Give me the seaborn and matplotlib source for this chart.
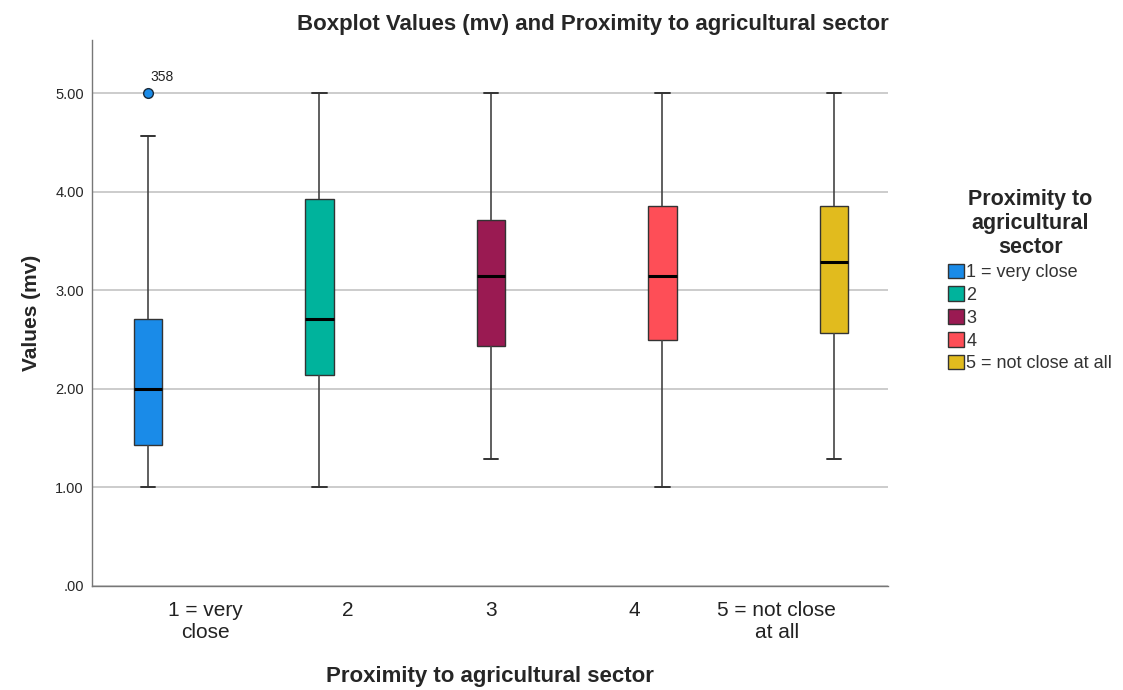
import numpy as np
import pandas as pd
import matplotlib
matplotlib.use("Agg")
import matplotlib.pyplot as plt
import seaborn as sns
from matplotlib.patches import Patch

# groups and box statistics
groups = ["1 = very close", "2", "3", "4", "5 = not close at all"]
tickLabels = ["1 = very\nclose", "2", "3", "4", "5 = not close\nat all"]
mins = [1.00, 1.00, 1.29, 1.00, 1.29]
q1s = [1.43, 2.14, 2.43, 2.50, 2.57]
medians = [2.00, 2.71, 3.14, 3.14, 3.29]
q3s = [2.71, 3.93, 3.71, 3.86, 3.86]
maxs = [4.57, 5.00, 5.00, 5.00, 5.00]
outliers = [[5.00], [], [], [], []]
outlierIds = [["358"], [], [], [], []]
colors = ["#1a8be8", "#00b39c", "#9a1a52", "#fe4e57", "#e1bb1e"]

# 9 values per group so the linear quartiles land exactly on q1/median/q3
rows = []
for g, lo, a, m, b, hi, out in zip(groups, mins, q1s, medians, q3s, maxs, outliers):
    vals = [lo, lo, a, a, m, b, b, hi, hi]
    for k, o in enumerate(out):
        vals[-1 - k] = o
        vals[-2 - k] = hi
    for v in vals:
        rows.append({"group": g, "value": v})
df = pd.DataFrame(rows)

sns.set_style("white")
plt.rcParams["font.family"] = ["Liberation Sans", "DejaVu Sans"]

fig = plt.figure(figsize=(11.23, 6.9), dpi=100)
ax = fig.add_axes([0.082, 0.151, 0.709, 0.791])

sns.boxplot(
    data=df, x="group", y="value", hue="group", order=groups, hue_order=groups,
    palette=colors, saturation=1, dodge=True, width=1.0, gap=0, whis=1.5, legend=False,
    linecolor="#333333", linewidth=1.0,
    medianprops={"color": "black", "linewidth": 2.2},
    whiskerprops={"color": "#444444", "linewidth": 1.2},
    capprops={"color": "#333333", "linewidth": 1.4},
    flierprops={"marker": "o", "markersize": 7, "markerfacecolor": colors[0],
                "markeredgecolor": "#1a2a3a", "markeredgewidth": 1.0},
    ax=ax,
)

# outlier case number labels
for i, (out, ids) in enumerate(zip(outliers, outlierIds)):
    for o, lab in zip(out, ids):
        ax.annotate(lab, (i + (i - 2) * 0.2, o), xytext=(2, 9), textcoords="offset points",
                    fontsize=10, color="#222222")

ax.set_xlim(-0.79, 4.78)
ax.set_ylim(0, 5.54)
ax.set_yticks([0, 1, 2, 3, 4, 5])
ax.set_yticklabels([".00", "1.00", "2.00", "3.00", "4.00", "5.00"], fontsize=10.5)
ax.set_xticks(range(len(groups)))
ax.set_xticklabels(tickLabels, fontsize=15, color="#222222", linespacing=1.2)
ax.tick_params(axis="x", length=0, pad=11)
ax.tick_params(axis="y", length=0, pad=6)
ax.yaxis.grid(True, color="#c8c8c8", linewidth=1.3)
ax.set_axisbelow(True)
for s in ["top", "right"]:
    ax.spines[s].set_visible(False)
for s in ["left", "bottom"]:
    ax.spines[s].set_color("#777777")
    ax.spines[s].set_linewidth(1.0)

ax.set_xlabel("Proximity to agricultural sector", fontsize=16, fontweight="bold", labelpad=17)
ax.set_ylabel("Values (mv)", fontsize=15, fontweight="bold", labelpad=10)
ax.set_title("Boxplot Values (mv) and Proximity to agricultural sector",
             fontsize=16, fontweight="bold", loc="right", pad=7)

handles = [Patch(facecolor=c, edgecolor="#333333", label=g) for g, c in zip(groups, colors)]
leg = fig.legend(handles=handles, title="Proximity to\nagricultural\nsector",
                 loc="upper left", bbox_to_anchor=(0.83, 0.75), frameon=False,
                 fontsize=13, title_fontproperties={"weight": "bold", "size": 15.5},
                 handlelength=0.85, handleheight=0.85, handletextpad=0.15, labelspacing=0.3)
leg.get_title().set_multialignment("center")
for t in leg.get_texts():
    t.set_color("#333333")

fig.savefig("out.png", dpi=100)
